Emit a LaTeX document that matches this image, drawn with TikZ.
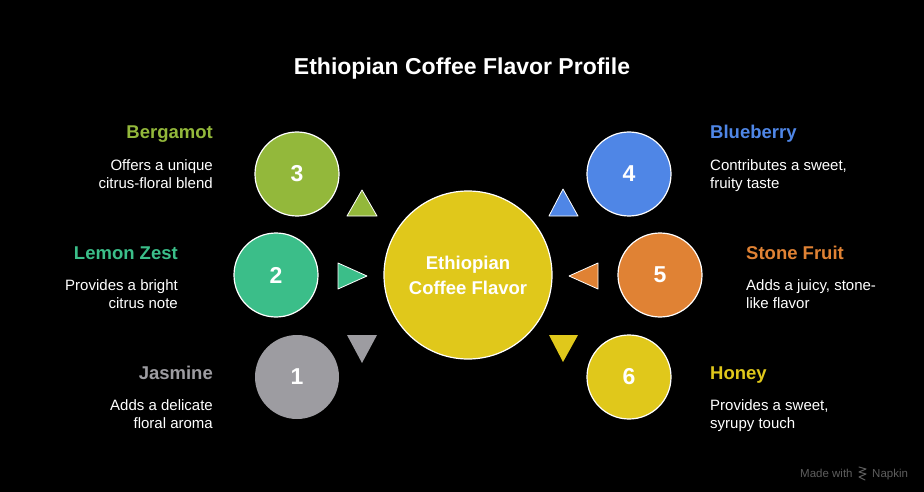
\documentclass[tikz,border=0pt]{standalone}
\usepackage{fontspec}
\setmainfont{Liberation Sans}
\definecolor{cgreen}{HTML}{93B83B}
\definecolor{cteal}{HTML}{3BBE89}
\definecolor{cgray}{HTML}{9D9CA1}
\definecolor{cblue}{HTML}{4F86E6}
\definecolor{corange}{HTML}{E08234}
\definecolor{cyellow}{HTML}{E0C81B}
\definecolor{wmark}{HTML}{5E5E5E}
\begin{document}
\begin{tikzpicture}[x=1pt,y=-1pt,
  bub/.style={circle, draw=white, line width=1.2pt, minimum size=84pt, inner sep=0pt,
    font=\bfseries\fontsize{23}{27}\selectfont, text=white},
  head/.style={font=\bfseries\fontsize{18.5}{22}\selectfont, inner sep=0pt},
  desc/.style={font=\fontsize{15}{18}\selectfont, text=white, inner sep=0pt},
  tri/.style={draw=white, line width=0.8pt, line join=round}]
\fill[black] (0,0) rectangle (924,492);
\useasboundingbox (0,0) rectangle (924,492);

% title
\node[font=\bfseries\fontsize{23}{27}\selectfont, text=white, anchor=base, inner sep=0pt] (title) at (462,75) {Ethiopian Coffee Flavor Profile};

% centre
\node[bub, fill=cyellow, minimum size=168pt, align=center,
  font=\bfseries\fontsize{18.5}{25}\selectfont] (c) at (468,275) {Ethiopian\\Coffee Flavor};

% circles
\node[bub, fill=cgreen] (n3) at (297,174) {3};
\node[bub, fill=cteal] (n2) at (276,275) {2};
\node[bub, fill=cgray, draw=none] (n1) at (297,377) {1};
\node[bub, fill=cblue] (n4) at (629,174) {4};
\node[bub, fill=corange] (n5) at (660,275) {5};
\node[bub, fill=cyellow] (n6) at (629,377) {6};

% triangles
\filldraw[tri, fill=cgreen] (347,216) -- (362,190) -- (377,216) -- cycle;
\filldraw[tri, fill=cteal] (338,263) -- (367,276) -- (338,289) -- cycle;
\fill[cgray] (347,335) -- (377,335) -- (362,363) -- cycle;
\filldraw[tri, fill=cblue] (549,216) -- (563,189) -- (578,216) -- cycle;
\filldraw[tri, fill=corange] (598,263) -- (569,276) -- (598,289) -- cycle;
\fill[cyellow] (549,335) -- (578,335) -- (563,362) -- cycle;

% left texts
\node[head, text=cgreen, anchor=base east] (h3) at (213,139) {Bergamot};
\node[desc, anchor=base east] (d3a) at (213,171) {Offers a unique};
\node[desc, anchor=base east] (d3b) at (213,189) {citrus-floral blend};
\node[head, text=cteal, anchor=base east] (h2) at (178,259) {Lemon Zest};
\node[desc, anchor=base east] (d2a) at (178,290) {Provides a bright};
\node[desc, anchor=base east] (d2b) at (178,308) {citrus note};
\node[head, text=cgray, anchor=base east] (h1) at (213,379) {Jasmine};
\node[desc, anchor=base east] (d1a) at (213,410) {Adds a delicate};
\node[desc, anchor=base east] (d1b) at (213,428) {floral aroma};

% right texts
\node[head, text=cblue, anchor=base west] (h4) at (710,139) {Blueberry};
\node[desc, anchor=base west] (d4a) at (710,171) {Contributes a sweet,};
\node[desc, anchor=base west] (d4b) at (710,189) {fruity taste};
\node[head, text=corange, anchor=base west] (h5) at (746,259) {Stone Fruit};
\node[desc, anchor=base west] (d5a) at (746,290) {Adds a juicy, stone-};
\node[desc, anchor=base west] (d5b) at (746,308) {like flavor};
\node[head, text=cyellow, anchor=base west] (h6) at (710,379) {Honey};
\node[desc, anchor=base west] (d6a) at (710,410) {Provides a sweet,};
\node[desc, anchor=base west] (d6b) at (710,428) {syrupy touch};

% watermark
\node[font=\fontsize{11.5}{13}\selectfont, text=wmark, anchor=base west, inner sep=0pt] (mw) at (800,477) {Made with};
\draw[wmark, line width=1pt, line cap=round, line join=round]
  (859,467) -- (866,469) -- (859,472) -- (866,474) -- (859,477) -- (865,480);
\node[font=\fontsize{11.5}{13}\selectfont, text=wmark, anchor=base west, inner sep=0pt] (nap) at (872,477) {Napkin};
\end{tikzpicture}
\end{document}
